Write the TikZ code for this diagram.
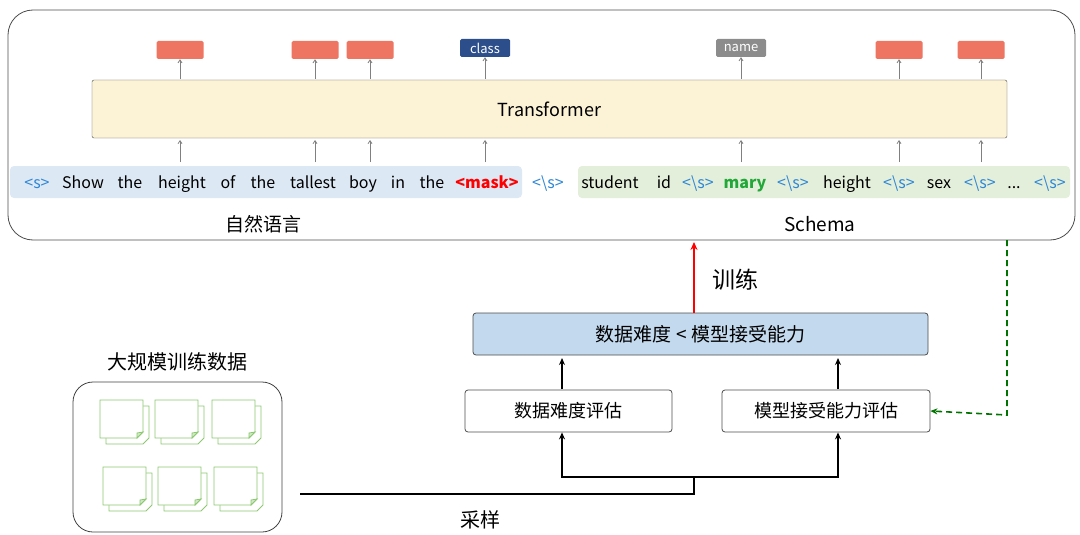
\documentclass[tikz,border=0pt]{standalone}
\usepackage{fontspec}
\setmainfont{Noto Sans CJK SC}
\usetikzlibrary{arrows.meta}
\definecolor{tokb}{HTML}{2E86D6}
\definecolor{tokg}{HTML}{21A838}
\definecolor{redbox}{HTML}{EE7561}
\definecolor{clsb}{HTML}{2C4E8A}
\definecolor{docg}{HTML}{8CC870}
\definecolor{tfy}{HTML}{FCF3D6}
\definecolor{cmpb}{HTML}{C3D9EE}
\definecolor{nlb}{HTML}{DDE8F5}
\definecolor{scg}{HTML}{E3EFDA}
\tikzset{
 redt/.style={fill=redbox,rounded corners=1.5pt,minimum width=47pt,minimum height=18pt,inner sep=0},
 uparr/.style={draw=gray,-{Straight Barb[length=3pt,width=4pt]},line width=0.8pt},
 blk/.style={draw,-{Stealth[length=7pt,width=6pt]},line width=1.5pt},
 box/.style={draw=black!70,rounded corners=3pt,line width=0.8pt,minimum height=42pt,font=\fontsize{18}{20}\selectfont},
 w/.style={font=\fontsize{16}{18}\selectfont,inner sep=0,anchor=base},
}
\begin{document}
\begin{tikzpicture}[x=1pt,y=-1pt]
\useasboundingbox (0,0) rectangle (1080,535);
\node[draw=black!70,line width=0.8pt,rounded corners=25pt,minimum width=1067pt,minimum height=230pt] (main) at (541.5,125) {};
% top tokens
\node[redt] (o1) at (180,50) {};
\node[redt] (o2) at (315,50) {};
\node[redt] (o3) at (370,50) {};
\node[redt,fill=clsb,minimum width=50pt,text=white,font=\fontsize{13}{15}\selectfont] (o4) at (485,48) {class};
\node[redt,fill=gray!90,minimum width=50pt,text=white,font=\fontsize{13}{15}\selectfont] (o5) at (741,48) {name};
\node[redt] (o6) at (899,50) {};
\node[redt] (o7) at (981,50) {};
\node[draw=black!70,fill=tfy,rounded corners=2pt,minimum width=915pt,minimum height=58pt,font=\fontsize{18}{20}\selectfont] (tf) at (549.5,109) {Transformer};
\foreach \x/\n in {180/1,315/2,370/3,485/4,741/5,899/6,981/7}{
  \coordinate (b\n) at (\x,79);
  \coordinate (c\n) at (\x,162);
  \coordinate (d\n) at (\x,140);
  \draw[uparr] (b\n) -- (o\n);
  \draw[uparr] (c\n) -- (d\n);
}
\node[fill=nlb,rounded corners=4pt,minimum width=512pt,minimum height=32pt] (nl) at (266,182) {};
\node[fill=scg,rounded corners=4pt,minimum width=492pt,minimum height=32pt] (sc) at (824,182) {};
\foreach \x/\t/\c in {37/{<s>}/tokb,83/Show/black,130/the/black,182/height/black,228/of/black,263/the/black,313/tallest/black,363/boy/black,398/in/black,432/the/black,548/{<\textbackslash s>}/tokb,610/student/black,664/id/black,698/{<\textbackslash s>}/tokb,793/{<\textbackslash s>}/tokb,847/height/black,899/{<\textbackslash s>}/tokb,939/sex/black,980/{<\textbackslash s>}/tokb,1014/{...}/black,1050/{<\textbackslash s>}/tokb}
  \node[w,text=\c] at (\x,188) {\t};
\node[w,text=red] (mask) at (487,188) {\textbf{<mask>}};
\node[w,text=tokg] (mary) at (745,188) {\textbf{mary}};
\node[font=\fontsize{19}{21}\selectfont] (lnl) at (263,224) {自然语言};
\node[font=\fontsize{19}{21}\selectfont] (lsc) at (820,224) {Schema};
% lower
\node[box,fill=cmpb,minimum width=455pt,font=\fontsize{19}{21}\selectfont] (cmp) at (700.5,334) {数据难度 < 模型接受能力};
\node[box,minimum width=207pt] (dd) at (568.5,411) {数据难度评估};
\node[box,minimum width=208pt] (ma) at (826,411) {模型接受能力评估};
\draw[red,line width=1.8pt,-{Stealth[length=8pt,width=7pt]}] (694,313) -- (694,242);
\node[font=\fontsize{23}{25}\selectfont] (tr) at (735,280) {训练};
\draw[blk] (562,389) -- (562,358);
\draw[blk] (838,389) -- (838,358);
\draw[draw=green!45!black,dash pattern=on 6pt off 4pt,line width=1.6pt,-{Stealth[length=7pt,width=6pt]}] (1007,240) -- (1007,415) -- (ma.east);
% data
\node[draw=black!75,rounded corners=20pt,line width=0.8pt,minimum width=209pt,minimum height=150pt] (data) at (177.5,457) {};
\node[font=\fontsize{20}{22}\selectfont] (ldata) at (177,362) {大规模训练数据};
\foreach \x/\y in {100/400,155/400,212/400,103/467,158/467,214/467}{
  \begin{scope}[shift={(\x,\y)},draw=docg,line width=0.8pt]
   \draw[fill=white] (6,6) -- (49,6) -- (49,38) -- (43,44) -- (6,44) -- cycle;
   \draw[fill=white] (0,0) -- (43,0) -- (43,32) -- (37,38) -- (0,38) -- cycle;
   \draw[fill=docg!40] (43,32) -- (37,33) -- (37,38) -- cycle;
  \end{scope}}
\coordinate (s1) at (300,494);
\coordinate (s2) at (694,494);
\coordinate (s3) at (694,477);
\draw[line width=1.8pt] (s1) -- (s2) -- (s3);
\draw[blk] (694,477) -| (dd.south -| 562,0);
\draw[blk] (694,477) -| (ma.south -| 838,0);
\node[font=\fontsize{20}{22}\selectfont] (samp) at (480,520) {采样};
\end{tikzpicture}
\end{document}
